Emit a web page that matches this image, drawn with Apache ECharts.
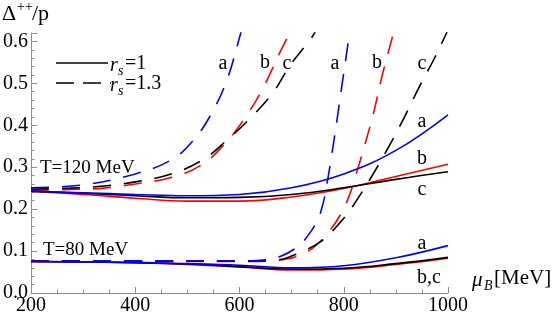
<!DOCTYPE html>
<html>
<head>
<meta charset="utf-8">
<script src="https://cdn.jsdelivr.net/npm/echarts@6/dist/echarts.min.js"></script>
<style>
html,body{margin:0;padding:0;background:#fff;}
#c{width:556px;height:322px;}
</style>
</head>
<body>
<div id="c"></div>
<script>
// ---- data ----
const xTicks = [200, 400, 600, 800, 1000];
const yTicks = [0.0, 0.1, 0.2, 0.3, 0.4, 0.5, 0.6];

// solid (r_s = 1)
const muSolid = [200, 300, 400, 500, 600, 700, 800, 900, 1000];
const t120SolidA = [0.243, 0.239, 0.235, 0.232, 0.235, 0.251, 0.284, 0.340, 0.425];
const t120SolidB = [0.242, 0.235, 0.226, 0.219, 0.219, 0.229, 0.249, 0.278, 0.307];
const t120SolidC = [0.243, 0.238, 0.232, 0.227, 0.228, 0.235, 0.251, 0.271, 0.289];
const t80SolidA = [0.075, 0.074, 0.073, 0.070, 0.066, 0.060, 0.065, 0.084, 0.113];
const t80SolidB = [0.075, 0.074, 0.072, 0.068, 0.062, 0.055, 0.057, 0.068, 0.083];
const t80SolidC = [0.075, 0.074, 0.072, 0.069, 0.063, 0.057, 0.059, 0.070, 0.085];

// dashed (r_s = 1.3)
const muT120DashA = [200, 300, 400, 470, 510, 545, 575, 598, 615];
const t120DashA   = [0.251, 0.258, 0.284, 0.318, 0.362, 0.425, 0.505, 0.600, 0.680];
const muT120DashB = [200, 275, 340, 400, 467, 524, 572, 614, 646, 678, 696, 712];
const t120DashB   = [0.245, 0.247, 0.250, 0.260, 0.275, 0.303, 0.356, 0.424, 0.491, 0.575, 0.620, 0.670];
const muT120DashC = [200, 275, 340, 400, 467, 530, 579, 620, 665, 697, 739, 752];
const t120DashC   = [0.248, 0.250, 0.255, 0.265, 0.283, 0.318, 0.368, 0.416, 0.479, 0.543, 0.610, 0.640];

const muT80DashA = [200, 400, 600, 650, 678, 710, 732, 750, 760, 768, 777, 787, 796, 809, 814];
const t80DashA   = [0.076, 0.076, 0.076, 0.079, 0.087, 0.109, 0.138, 0.175, 0.212, 0.262, 0.330, 0.412, 0.491, 0.602, 0.650];
const muT80DashB = [200, 400, 600, 652, 690, 716, 745, 774, 795, 812, 828, 841, 857, 873, 895, 902];
const t80DashB   = [0.075, 0.075, 0.075, 0.076, 0.081, 0.090, 0.112, 0.150, 0.190, 0.237, 0.301, 0.356, 0.428, 0.515, 0.618, 0.650];
const muT80DashC = [200, 400, 600, 674, 700, 726, 755, 780, 800, 819, 857, 886, 915, 943, 972, 995, 1000];
const t80DashC   = [0.076, 0.076, 0.076, 0.079, 0.088, 0.102, 0.122, 0.150, 0.178, 0.210, 0.285, 0.348, 0.416, 0.487, 0.555, 0.614, 0.628];

// ---- build ----
const pair = (xs, ys) => xs.map((x, i) => [x, ys[i]]);
const BLUE = '#0000ff', RED = '#ff0000', BLACK = '#000000';
const DASH = [18, 13];
function line(name, xs, ys, color, dashed) {
  return {
    name, type: 'line', data: pair(xs, ys), showSymbol: false, symbol: 'none',
    smooth: 0.4, clip: true, silent: true, animation: false,
    lineStyle: { color, width: 1.6, type: dashed ? DASH : 'solid' }
  };
}
const serif = '"Liberation Serif", "Times New Roman", serif';
const axisGrey = '#8c8c8c';

const series = [
  line('t120DashB', muT120DashB, t120DashB, RED, true),
  line('t120DashC', muT120DashC, t120DashC, BLACK, true),
  line('t120DashA', muT120DashA, t120DashA, BLUE, true),
  line('t80DashB', muT80DashB, t80DashB, RED, true),
  line('t80DashC', muT80DashC, t80DashC, BLACK, true),
  line('t80DashA', muT80DashA, t80DashA, BLUE, true),
  line('t120SolidB', muSolid, t120SolidB, RED, false),
  line('t120SolidC', muSolid, t120SolidC, BLACK, false),
  line('t120SolidA', muSolid, t120SolidA, BLUE, false),
  line('t80SolidB', muSolid, t80SolidB, RED, false),
  line('t80SolidC', muSolid, t80SolidC, BLACK, false),
  line('t80SolidA', muSolid, t80SolidA, BLUE, false)
];

function txt(text, x, y, size, opts) {
  opts = opts || {};
  return {
    type: 'text', x, y, silent: true,
    style: {
      text, fill: '#000',
      font: (opts.italic ? 'italic ' : '') + size + 'px ' + serif,
      align: opts.align || 'center', textAlign: opts.align || 'center',
      verticalAlign: 'middle', textVerticalAlign: 'middle'
    }
  };
}

const graphics = [
  // title
  txt('\u0394', 2, 14, 22, {align: 'left'}),
  txt('++', 17, 7, 14, {align: 'left'}),
  txt('/p', 32, 14, 22, {align: 'left'}),
  // legend
  { type: 'line', silent: true, shape: {x1: 56, y1: 63, x2: 108, y2: 63}, style: {stroke: '#000', lineWidth: 1.6} },
  { type: 'line', silent: true, shape: {x1: 56, y1: 83, x2: 111, y2: 83}, style: {stroke: '#000', lineWidth: 1.6, lineDash: [18, 9]} },
  txt('r', 110, 66, 20, {align: 'left', italic: true}),
  txt('s', 118, 71, 14, {align: 'left', italic: true}),
  txt('=1', 125, 64, 20, {align: 'left'}),
  txt('r', 110, 86, 20, {align: 'left', italic: true}),
  txt('s', 118, 91, 14, {align: 'left', italic: true}),
  txt('=1.3', 125, 84, 20, {align: 'left'}),
  // curve labels
  txt('a', 223, 64, 20), txt('b', 265, 63, 20), txt('c', 287, 64, 20),
  txt('a', 335, 64, 20), txt('b', 377, 63, 20), txt('c', 422, 64, 20),
  txt('a', 422, 122, 20), txt('b', 422, 159, 20), txt('c', 422, 190, 20),
  txt('a', 422, 244, 20), txt('b,c', 429, 278, 20),
  // temperatures
  txt('T=120 MeV', 40, 168, 19, {align: 'left'}),
  txt('T=80 MeV', 43, 250, 19, {align: 'left'}),
  // x axis name
  txt('\u03bc', 472, 280, 21, {align: 'left', italic: true}),
  txt('B', 484, 286, 14, {align: 'left', italic: true}),
  txt('[MeV]', 494, 278, 21, {align: 'left'})
];

const chart = echarts.init(document.getElementById('c'), null, {renderer: 'canvas'});
chart.setOption({
  animation: false,
  backgroundColor: '#fff',
  grid: {left: 31, right: 108, top: 33, bottom: 29, containLabel: false},
  xAxis: {
    type: 'value', min: xTicks[0], max: xTicks[xTicks.length - 1], interval: 200,
    axisLine: {show: true, onZero: false, lineStyle: {color: axisGrey, width: 1}},
    axisTick: {show: true, inside: true, length: 6, lineStyle: {color: axisGrey}},
    minorTick: {show: true, splitNumber: 4, length: 3.5, lineStyle: {color: axisGrey}},
    splitLine: {show: false}, minorSplitLine: {show: false},
    axisLabel: {color: '#000', fontFamily: serif, fontSize: 20, margin: 3,
      formatter: v => String(v)}
  },
  yAxis: {
    type: 'value', min: yTicks[0], max: 0.62, interval: 0.1,
    axisLine: {show: true, onZero: false, lineStyle: {color: axisGrey, width: 1}},
    axisTick: {show: true, inside: true, length: 6, lineStyle: {color: axisGrey}},
    minorTick: {show: true, splitNumber: 5, length: 3.5, lineStyle: {color: axisGrey}},
    splitLine: {show: false}, minorSplitLine: {show: false},
    axisLabel: {color: '#000', fontFamily: serif, fontSize: 20, margin: 3, showMaxLabel: false,
      formatter: v => {
        const k = Math.round(v * 10);
        return Math.abs(v * 10 - k) < 1e-6 && k >= 0 && k < yTicks.length ? yTicks[k].toFixed(1) : '';
      }}
  },
  series,
  graphic: graphics
});
</script>
</body>
</html>
